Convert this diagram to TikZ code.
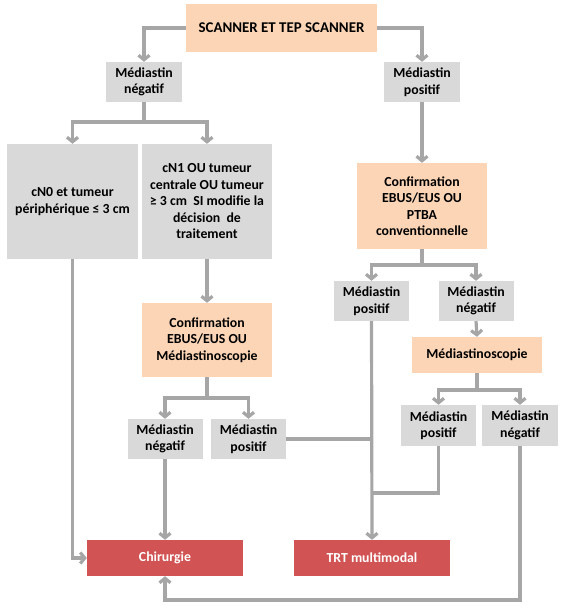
\documentclass[tikz,border=0pt]{standalone}
\usepackage{fontspec}
\setmainfont{Carlito}
\usetikzlibrary{arrows.meta}
\definecolor{peach}{HTML}{FBD5B5}
\definecolor{boxgray}{HTML}{D9D9D9}
\definecolor{linegray}{HTML}{A6A6A6}
\definecolor{treatred}{HTML}{D15353}
\begin{document}
\begin{tikzpicture}[x=1pt,y=-1pt]
    \tikzstyle{every node}+=[inner sep=0pt, align=center, font=\fontsize{13.8}{16.5}\selectfont\bfseries]
    \tikzstyle{exam}=[fill=peach]
    \tikzstyle{result}=[fill=boxgray, minimum width=75, minimum height=40]
    \tikzstyle{treat}=[fill=treatred, text=white, minimum width=156, minimum height=36]
    \tikzstyle{link}=[draw=linegray, line width=3.2pt]
    \tikzstyle{flow}=[link, -{Straight Barb[length=4.5pt,width=11pt]}]
    \useasboundingbox (0,0) rectangle (565,608);
    \node [exam, minimum width=191, minimum height=48, font=\fontsize{14.9}{17}\selectfont\bfseries] (scan) at (281.5,28) {SCANNER ET TEP SCANNER};
    \node [result, minimum width=76] (negA) at (144,82) {Médiastin\\négatif};
    \node [result, minimum width=76] (posA) at (422,82) {Médiastin\\positif};
    \node [fill=boxgray, minimum width=131, minimum height=115] (cnzero) at (72.5,201.5) {cN0 et tumeur\\périphérique ≤ 3 cm};
    \node [fill=boxgray, minimum width=130, minimum height=115] (cnone) at (207,201.5) {cN1 OU tumeur\\centrale OU tumeur\\≥ 3 cm~ SI modifie la\\décision~ de\\traitement};
    \node [exam, minimum width=130, minimum height=86] (confR) at (422,206) {Confirmation\\EBUS/EUS OU\\PTBA\\conventionnelle};
    \node [exam, minimum width=130, minimum height=74] (confL) at (207,340) {Confirmation\\EBUS/EUS OU\\Médiastinoscopie};
    \node [result] (negB) at (165,439) {Médiastin\\négatif};
    \node [result] (posB) at (248.5,439) {Médiastin\\positif};
    \node [result] (posC) at (371.5,301) {Médiastin\\positif};
    \node [result] (negC) at (476,301) {Médiastin\\négatif};
    \node [exam, minimum width=130, minimum height=36] (mscope) at (477,355) {Médiastinoscopie};
    \node [result, minimum height=41] (posD) at (438.5,425.5) {Médiastin\\positif};
    \node [result, minimum width=76, minimum height=41] (negD) at (520,425.5) {Médiastin\\négatif};
    \node [treat] (chir) at (165,558) {Chirurgie};
    \node [treat] (trt) at (372,558) {TRT multimodal};
    \draw [flow] (scan.west) -| (negA.north);
    \draw [flow] (scan.east) -| (posA.north);
    \draw [link] (negA.south) -- (144,122);
    \draw [flow] (144,122) -| (cnzero.north);
    \draw [flow] (144,122) -| (cnone.north);
    \draw [flow] (posA.south) -- (confR.north);
    \draw [flow] (cnone.south) -- (confL.north);
    \draw [link] (confL.south) -- (207,398);
    \draw [flow] (207,398) -| (negB.north);
    \draw [flow] (207,398) -| (posB.north);
    \draw [link] (confR.south) -- (422,265);
    \draw [flow] (422,265) -| (posC.north);
    \draw [flow] (422,265) -| (negC.north);
    \draw [flow] (negC.south) -- (mscope.north);
    \draw [link] (mscope.south) -- (477,390);
    \draw [flow] (477,390) -| (posD.north);
    \draw [flow] (477,390) -| (negD.north);
    \draw [flow] (cnzero.south) |- (chir.west);
    \draw [flow] (negB.south) -- (chir.north);
    \draw [link] (posB.east) -- (posC.south |- posB.east);
    \draw [flow] (posC.south) -- (trt.north);
    \draw [link] (posD.south) |- (posC.south |- 0,493);
    \draw [flow] (negD.south) |- (165,600) -- (chir.south);
\end{tikzpicture}
\end{document}
